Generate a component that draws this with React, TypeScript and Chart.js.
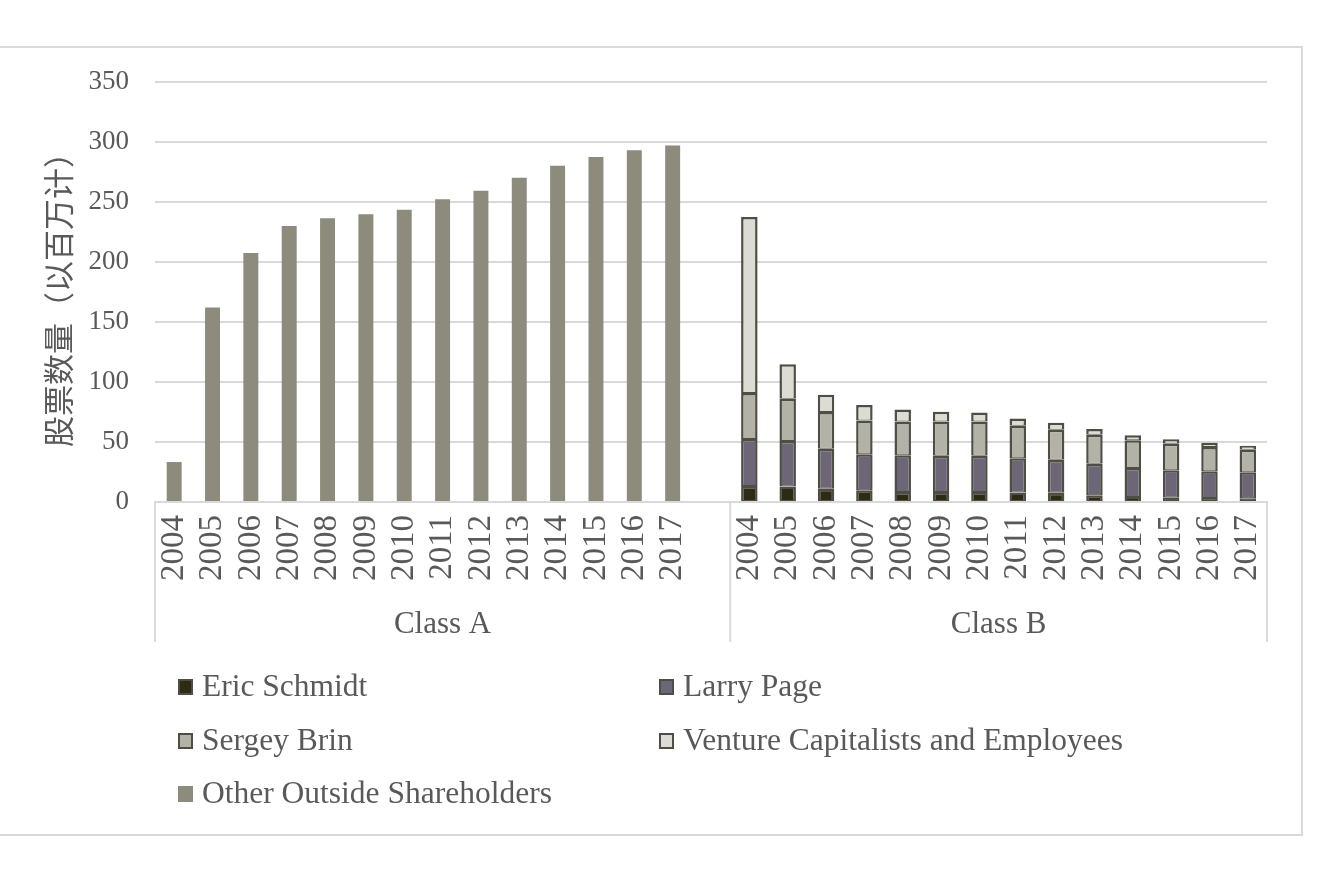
import { useEffect, useRef } from "react";
import { Chart, registerables } from "chart.js";

Chart.register(...registerables);

const SERIF = '"Liberation Serif", "Times New Roman", serif';
const CJK = '"Noto Sans CJK SC", sans-serif';
const TEXT = "#595959";
const GRID = "#d9d9d9";

const yearsA = ["2004", "2005", "2006", "2007", "2008", "2009", "2010", "2011", "2012", "2013", "2014", "2015", "2016", "2017"];
const yearsB = ["2004", "2005", "2006", "2007", "2008", "2009", "2010", "2011", "2012", "2013", "2014", "2015", "2016", "2017"];
const groupLabels = ["Class A", "Class B"];

// Class A
const otherOutside = [33.3, 162, 207.5, 230, 236.4, 239.7, 243.6, 252.2, 259.4, 270.3, 280.3, 287.5, 293.1, 297];
// Class B
const ericSchmidt = [13.3, 13, 11, 9.7, 8.3, 8.3, 8.3, 8, 7.8, 5.6, 4.2, 3.6, 3.3, 3.1];
const larryPage = [39.2, 37.8, 33.3, 30, 30.6, 30.3, 30.3, 28.4, 27.5, 26.3, 24.1, 22.8, 22.3, 21.6];
const sergeyBrin = [38.3, 35.3, 30.8, 28.3, 28.1, 28.4, 28.4, 27.1, 25, 24.2, 23.1, 22.2, 20.2, 18.9];
const ventureCap = [146.7, 28.6, 14.2, 12.8, 10, 8.3, 7.5, 6.1, 5.8, 4.7, 4.2, 3.6, 3.6, 3.3];

const yTicks = [0, 50, 100, 150, 200, 250, 300, 350];

const labels = [...yearsA, "", ...yearsB];
const groupSizes = [yearsA.length + 1, yearsB.length];

const padA = (arr: number[]) => [...arr, null, ...yearsB.map(() => null)];
const padB = (arr: number[]) => [...yearsA.map(() => null), null, ...arr];

const BORDER = "#4f4e44";

const legendLayout = [
  { idx: 0, col: 0, row: 0 },
  { idx: 1, col: 1, row: 0 },
  { idx: 2, col: 0, row: 1 },
  { idx: 3, col: 1, row: 1 },
  { idx: 4, col: 0, row: 2 },
];

const groupPlugin = {
  id: "groupPlugin",
  afterDraw(chart: any) {
    const ctx = chart.ctx;
    const xs = chart.scales.x;
    const n = chart.data.labels.length;
    const slot = (xs.right - xs.left) / n;
    const top = chart.chartArea.bottom;
    const bottom = top + 140;
    ctx.save();
    ctx.strokeStyle = GRID;
    ctx.lineWidth = 2;
    let start = 0;
    const edges: number[] = [xs.left];
    groupSizes.forEach((s) => {
      start += s;
      edges.push(xs.left + slot * start);
    });
    edges.forEach((x) => {
      ctx.beginPath();
      ctx.moveTo(x, top);
      ctx.lineTo(x, bottom);
      ctx.stroke();
    });
    ctx.fillStyle = TEXT;
    ctx.font = `31px ${SERIF}`;
    ctx.textAlign = "center";
    ctx.textBaseline = "middle";
    groupLabels.forEach((g, i) => {
      ctx.fillText(g, (edges[i] + edges[i + 1]) / 2, top + 123);
    });

    // legend
    const colX = [chart.chartArea.left + 23, chart.chartArea.left + 504];
    const rowY = [top + 185, top + 239, top + 292];
    ctx.font = `31.5px ${SERIF}`;
    ctx.textAlign = "left";
    legendLayout.forEach(({ idx, col, row }) => {
      const ds = chart.data.datasets[idx];
      const x = colX[col];
      const y = rowY[row];
      ctx.fillStyle = ds.backgroundColor;
      ctx.fillRect(x, y - 8, 15, 16);
      if (ds.borderWidth) {
        ctx.strokeStyle = BORDER;
        ctx.lineWidth = 2;
        ctx.strokeRect(x + 1, y - 7, 13, 14);
      }
      ctx.fillStyle = TEXT;
      ctx.fillText(ds.label, x + 24, y + 1);
    });
    ctx.restore();
  },
};

export default function App() {
  const ref = useRef<HTMLCanvasElement>(null);
  useEffect(() => {
    if (!ref.current) return;
    const bw = { left: 2.5, right: 2.5, top: 2.5, bottom: 1 };
    const common = { borderColor: BORDER, borderWidth: bw as any, borderSkipped: false, barPercentage: 0.43, categoryPercentage: 1 };
    const chart = new Chart(ref.current, {
      type: "bar",
      data: {
        labels,
        datasets: [
          { label: "Eric Schmidt", data: padB(ericSchmidt), backgroundColor: "#2e2b14", ...common },
          { label: "Larry Page", data: padB(larryPage), backgroundColor: "#6c6676", ...common },
          { label: "Sergey Brin", data: padB(sergeyBrin), backgroundColor: "#b3b2a6", ...common },
          { label: "Venture Capitalists and Employees", data: padB(ventureCap), backgroundColor: "#dcdcd4", ...common },
          { label: "Other Outside Shareholders", data: padA(otherOutside), backgroundColor: "#8c8b7c", borderWidth: 0, barPercentage: 0.39, categoryPercentage: 1 },
        ] as any,
      },
      options: {
        responsive: false,
        animation: false,
        devicePixelRatio: 1,
        layout: { padding: { left: 0, right: 74, top: 82, bottom: 881 - 642 } },
        plugins: { legend: { display: false }, tooltip: { enabled: false } },
        scales: {
          x: {
            stacked: true,
            grid: { display: false, drawTicks: false },
            border: { display: true, color: GRID, width: 2 },
            ticks: {
              autoSkip: false,
              minRotation: 90,
              maxRotation: 90,
              padding: 13,
              color: TEXT,
              font: { family: SERIF, size: 33 },
            },
            afterFit: (s: any) => {
              s.height = 140;
            },
          },
          y: {
            stacked: true,
            min: 0,
            max: 350,
            afterBuildTicks: (s: any) => {
              s.ticks = yTicks.map((v) => ({ value: v }));
            },
            grid: { color: GRID, lineWidth: 2, drawTicks: false },
            border: { display: false },
            ticks: {
              padding: 26,
              color: TEXT,
              font: { family: SERIF, size: 27 },
            },
            title: {
              display: true,
              text: "股票数量（以百万计）",
              color: TEXT,
              font: { family: CJK, size: 31 },
              padding: { top: 40, bottom: 0 },
            },
            afterFit: (s: any) => {
              s.width = 155;
            },
          },
        },
      },
      plugins: [groupPlugin],
    });
    return () => chart.destroy();
  }, []);
  return (
    <div style={{ position: "absolute", left: 0, top: 0, width: 1341, height: 881, background: "#fff", overflow: "hidden" }}>
      <div
        style={{
          position: "absolute",
          left: -2,
          top: 46,
          width: 1305,
          height: 790,
          border: `2px solid ${GRID}`,
          boxSizing: "border-box",
        }}
      />
      <canvas ref={ref} width={1341} height={881} style={{ position: "absolute", left: 0, top: 0, width: 1341, height: 881 }} />
    </div>
  );
}
